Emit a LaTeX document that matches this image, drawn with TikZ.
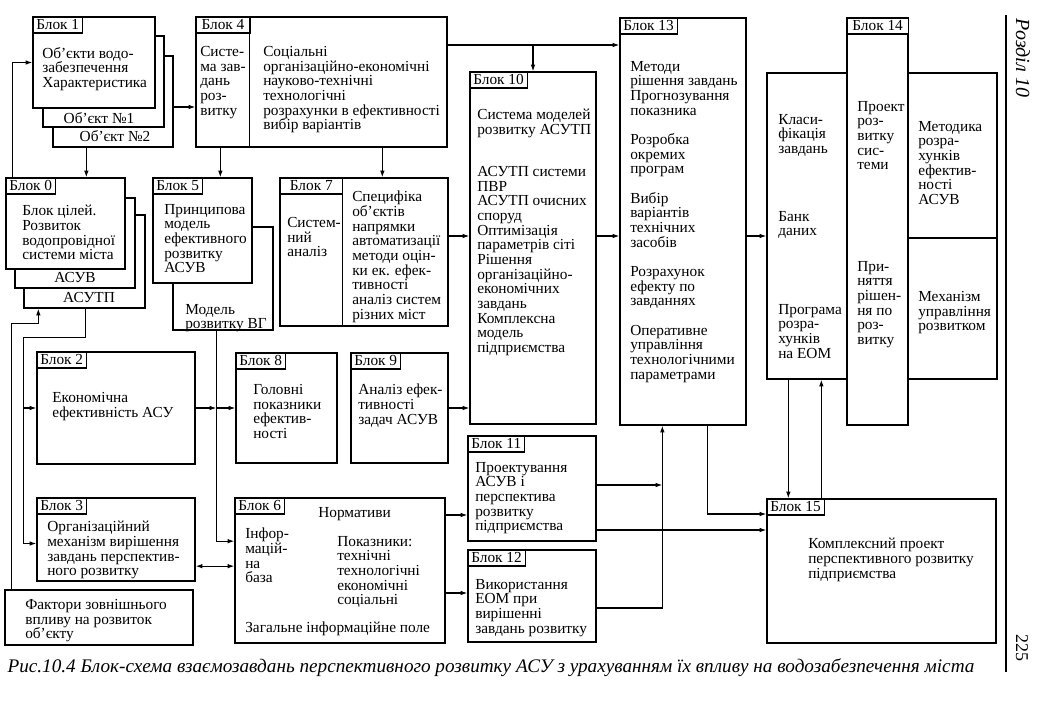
\documentclass[tikz,border=0pt]{standalone}
\usepackage{fontspec}
\setmainfont{Liberation Serif}
\usetikzlibrary{calc,fit,arrows.meta}
\newcommand{\blokfont}{\fontsize{11.5}{11}\selectfont}

\begin{document}
\begin{tikzpicture}[x=0.75pt, y=-0.75pt, >={Latex[length=5pt,width=3.4pt]},
    box/.style={draw, fill=white, inner sep=0pt, line width=1pt},
    tag/.style={draw, fill=white, anchor=north west, inner xsep=2.5pt, inner ysep=1.5pt,
      text height=8pt, text depth=1pt, line width=0.9pt, font=\blokfont},
    txt/.style={anchor=north west, align=left, inner sep=0pt, font=\blokfont},
    rule/.style={line width=1pt},
    link/.style={line width=0.8pt}]
    \useasboundingbox (0,0) rectangle (1041,700);

    % Blok 1 with its objects
    \node[box, fit={(53,56) (173,147)}] (b1c) {};
    \node[box, fit={(43,36) (164,127)}] (b1b) {};
    \node[box, fit={(33,17) (155,108)}] (b1) {};
    \node[tag] (b1t) at (b1.north west) {Блок 1};
    \node[txt] (b1x) at (42,47) {Об'єкти водо-\\забезпечення\\Характеристика};
    \node[txt, anchor=base] (b1bx) at (99,123) {Об'єкт №1};
    \node[txt, anchor=base] (b1cx) at (115,141) {Об'єкт №2};

    % Blok 0
    \node[box, fit={(24,215) (145,308)}] (b0c) {};
    \node[box, fit={(15,198) (135,288)}] (b0b) {};
    \node[box, fit={(6,178) (125,269)}] (b0) {};
    \node[tag] (b0t) at (b0.north west) {Блок 0};
    \node[txt] (b0x) at (22,205) {Блок цілей.\\Розвиток\\водопровідної\\системи міста};
    \node[txt, anchor=base] (b0bx) at (75,282) {АСУВ};
    \node[txt, anchor=base] (b0cx) at (89,302) {АСУТП};

    % outer factors
    \node[box, fit={(5,590) (193,645)}] (fak) {};
    \node[txt] (fakx) at (25,599) {Фактори зовнішнього\\впливу на розвиток\\об'єкту};

    % Blok 4
    \node[box, fit={(196,17) (447,147)}] (b4) {};
    \draw[rule] ($(b4.north west)+(54,0)$) -- ($(b4.south west)+(54,0)$);
    \node[tag, minimum width=40.5pt] (b4t) at (b4.north west) {Блок 4};
    \node[txt] (b4x) at (200,46) {Систе-\\ма зав-\\дань\\роз-\\витку};
    \node[txt] (b4y) at (263,46) {Соціальні\\організаційно-економічні\\науково-технічні\\технологічні\\розрахунки в ефективності\\вибір варіантів};

    % Blok 5
    \node[box, fit={(173,227) (273,330)}] (b5s) {};
    \node[box, fit={(153,178) (252,283)}] (b5) {};
    \node[tag] (b5t) at (b5.north west) {Блок 5};
    \node[txt] (b5x) at (164,204) {Принципова\\модель\\ефективного\\розвитку\\АСУВ};
    \node[txt] (b5y) at (185,304) {Модель\\розвитку ВГ};

    % Blok 7
    \node[box, fit={(280,178) (448,326)}] (b7) {};
    \draw[rule] ($(b7.north west)+(63,0)$) -- ($(b7.south west)+(63,0)$);
    \node[tag, minimum width=47pt] (b7t) at (b7.north west) {Блок 7};
    \node[txt] (b7x) at (287,217) {Систем-\\ний\\аналіз};
    \node[txt] (b7y) at (352,191) {Специфіка\\об'єктів\\напрямки\\автоматизації\\методи оцін-\\ки ек. ефек-\\тивності\\аналіз систем\\різних міст};

    % Blok 2, 3
    \node[box, fit={(37,352) (195,464)}] (b2) {};
    \node[tag] (b2t) at (b2.north west) {Блок 2};
    \node[txt] (b2x) at (52,392) {Економічна\\ефективність АСУ};
    \node[box, fit={(37,498) (195,581)}] (b3) {};
    \node[tag] (b3t) at (b3.north west) {Блок 3};
    \node[txt] (b3x) at (47,521) {Організаційний\\механізм вирішення\\завдань перспектив-\\ного розвитку};

    % Blok 8, 9
    \node[box, fit={(236,353) (337,463)}] (b8) {};
    \node[tag] (b8t) at (b8.north west) {Блок 8};
    \node[txt] (b8x) at (253,384) {Головні\\показники\\ефектив-\\ності};
    \node[box, fit={(351,353) (448,463)}] (b9) {};
    \node[tag] (b9t) at (b9.north west) {Блок 9};
    \node[txt] (b9x) at (358,384) {Аналіз ефек-\\тивності\\задач АСУВ};

    % Blok 6
    \node[box, fit={(235,498) (445,643)}] (b6) {};
    \node[tag] (b6t) at (b6.north west) {Блок 6};
    \node[txt, anchor=base west] (b6n) at (318,517) {Нормативи};
    \node[txt] (b6x) at (245,528) {Інфор-\\мацій-\\на\\база};
    \node[txt] (b6y) at (337,536) {Показники:\\технічні\\технологічні\\економічні\\соціальні};
    \node[txt, anchor=base west] (b6z) at (245,632) {Загальне інформаційне поле};

    % Blok 10, 11, 12
    \node[box, fit={(470,72) (596,424)}] (b10) {};
    \node[tag] (b10t) at (b10.north west) {Блок 10};
    \node[txt] (b10x) at (477,109) {Система моделей\\розвитку АСУТП};
    \node[txt] (b10y) at (477,166) {АСУТП системи\\ПВР\\АСУТП очисних\\споруд\\Оптимізація\\параметрів сіті\\Рішення\\організаційно-\\економічних\\завдань\\Комплексна\\модель\\підприємства};
    \node[box, fit={(468,436) (596,541)}] (b11) {};
    \node[tag] (b11t) at (b11.north west) {Блок 11};
    \node[txt] (b11x) at (475,462) {Проектування\\АСУВ і\\перспектива\\розвитку\\підприємства};
    \node[box, fit={(468,550) (596,642)}] (b12) {};
    \node[tag] (b12t) at (b12.north west) {Блок 12};
    \node[txt] (b12x) at (475,579) {Використання\\ЕОМ при\\вирішенні\\завдань розвитку};

    % Blok 13
    \node[box, fit={(620,18) (746,425)}] (b13) {};
    \node[tag] (b13t) at (b13.north west) {Блок 13};
    \node[txt] (b13x) at (630,61) {Методи\\рішення завдань\\Прогнозування\\показника\\[11pt]Розробка\\окремих\\програм\\[11pt]Вибір\\варіантів\\технічних\\засобів\\[11pt]Розрахунок\\ефекту по\\завданнях\\[11pt]Оперативне\\управління\\технологічними\\параметрами};

    % Blok 14
    \node[box, fit={(847,18) (908,425)}] (b14) {};
    \node[box, fit={(767,73) (847,379)}] (kl) {};
    \node[box, fit={(908,73) (997,238)}] (kr) {};
    \node[box, fit={(908,238) (997,379)}] (km) {};
    \node[tag, minimum width=46pt] (b14t) at (b14.north west) {Блок 14};
    \node[txt] (klx) at (778,114) {Класи-\\фікація\\завдань};
    \node[txt] (kly) at (778,211) {Банк\\даних};
    \node[txt] (klz) at (778,304) {Програма\\розра-\\хунків\\на ЕОМ};
    \node[txt] (b14x) at (857,101) {Проект\\роз-\\витку\\сис-\\теми};
    \node[txt] (b14y) at (857,261) {При-\\няття\\рішен-\\ня по\\роз-\\витку};
    \node[txt] (krx) at (918,121) {Методика\\розра-\\хунків\\ефектив-\\ності\\АСУВ};
    \node[txt] (kmx) at (918,291) {Механізм\\управління\\розвитком};

    % Blok 15
    \node[box, fit={(767,499) (996,643)}] (b15) {};
    \node[tag] (b15t) at (b15.north west) {Блок 15};
    \node[txt] (b15x) at (808,538) {Комплексний проект\\перспективного розвитку\\підприємства};

    % levels of the horizontal links
    \coordinate (h45) at (0,45);
    \coordinate (h107) at (0,107);
    \coordinate (h236) at (0,236);
    \coordinate (h485) at (0,485);
    \coordinate (h514) at (0,514);
    \coordinate (h515) at (0,515);
    \coordinate (h530) at (0,530);
    \coordinate (h593) at (0,593);
    \coordinate (h608) at (0,608);

    % Blok 0, Blok 1, factors
    \draw[link,->] ($(b0.north west)+(7,0)$) |- (b1.west);
    \coordinate (p1) at ($(b1c.south west)+(34,0)$);
    \draw[link,->] (p1) -- (p1 |- b0.north);
    \draw[link,->] (b1c.east |- h107) -- (b4.west |- h107);
    \coordinate (q1) at ($(b0c.south west)+(15,15)$);
    \draw[link,->] ($(fak.north west)+(7,0)$) |- (q1) -- (q1 |- b0c.south);
    \coordinate (q2) at ($(b0c.south west)+(62,0)$);
    \coordinate (q3) at ($(b2.north west)+(-13,-14)$);
    \draw[link] (q2) |- (q3);
    \draw[link,->] (q3) |- (b2.west);
    \draw[link,->] (q3) |- ([yshift=-3pt]b3.west);

    % Blok 2, 3, 5 towards 8 and 6
    \coordinate (jx) at ($(b5s.south west)+(44,0)$);
    \draw[link,->] (b2.east) -- (b2.east -| jx);
    \draw[link,->] (b2.east -| jx) -- (b8.west);
    \draw[link,->] (jx) |- ([yshift=22pt]b6.west);
    \draw[link,<->] ([yshift=-20pt]b3.east) -- ([yshift=-20pt]b3.east -| b6.west);

    % Blok 4 outputs
    \coordinate (p4) at ($(b4.south west)+(25,0)$);
    \draw[link,->] (p4) -- (p4 |- b5.north);
    \coordinate (p7) at ($(b4.south west)+(187,0)$);
    \draw[link,->] (p7) -- (p7 |- b7.north);
    \draw[link,->] (b4.east |- h45) -- (b13.west |- h45);
    \draw[link,->] (b10.north |- h45) -- (b10.north);

    % into Blok 10, 13, 14
    \draw[link,->] (b7.east |- h236) -- (b10.west |- h236);
    \draw[link,->] (b9.east) -- (b9.east -| b10.west);
    \draw[link,->] (b10.east |- h236) -- (b13.west |- h236);
    \draw[link,->] (b13.east |- h236) -- (kl.west |- h236);

    % Blok 6 outputs
    \draw[link,->] (b6.east |- h515) -- (b11.west |- h515);
    \draw[link,->] (b6.east |- h593) -- (b12.west |- h593);

    % Blok 11, 12 back to 13, and to 15
    \coordinate (jv) at ($(b13.south west)+(43,0)$);
    \draw[link,->] (b11.east |- h485) -- (jv |- h485);
    \draw[link,->] (b12.east |- h608) -| (jv);
    \draw[link,->] (b11.east |- h530) -- (b15.west |- h530);
    \coordinate (p13) at ($(b13.south west)+(88,0)$);
    \draw[link,->] (p13) |- (b15.west |- h514);
    \coordinate (pk) at ($(kl.south west)+(22,0)$);
    \draw[link,->] (pk) -- (pk |- b15.north);
    \coordinate (p15) at ($(b15.north west)+(55,0)$);
    \draw[link,->] (p15) -- (p15 |- kl.south);

    % page margin
    \coordinate (m1) at (1006,15);
    \coordinate (m2) at (1006,672);
    \draw[line width=1.1pt] (m1) -- (m2);
    \node[rotate=-90, inner sep=0pt, font=\fontsize{15}{15}\selectfont\itshape] (razd) at (1023,58) {Розділ 10};
    \node[rotate=-90, inner sep=0pt, font=\fontsize{13.5}{13.5}\selectfont] (pnum) at (1022,648) {225};
    \node[anchor=base, inner sep=0pt, font=\fontsize{14.4}{14.4}\selectfont\itshape] (cap) at (491,672) {Рис.10.4 Блок-схема взаємозавдань перспективного розвитку АСУ з урахуванням їх впливу на водозабезпечення міста};
\end{tikzpicture}
\end{document}
